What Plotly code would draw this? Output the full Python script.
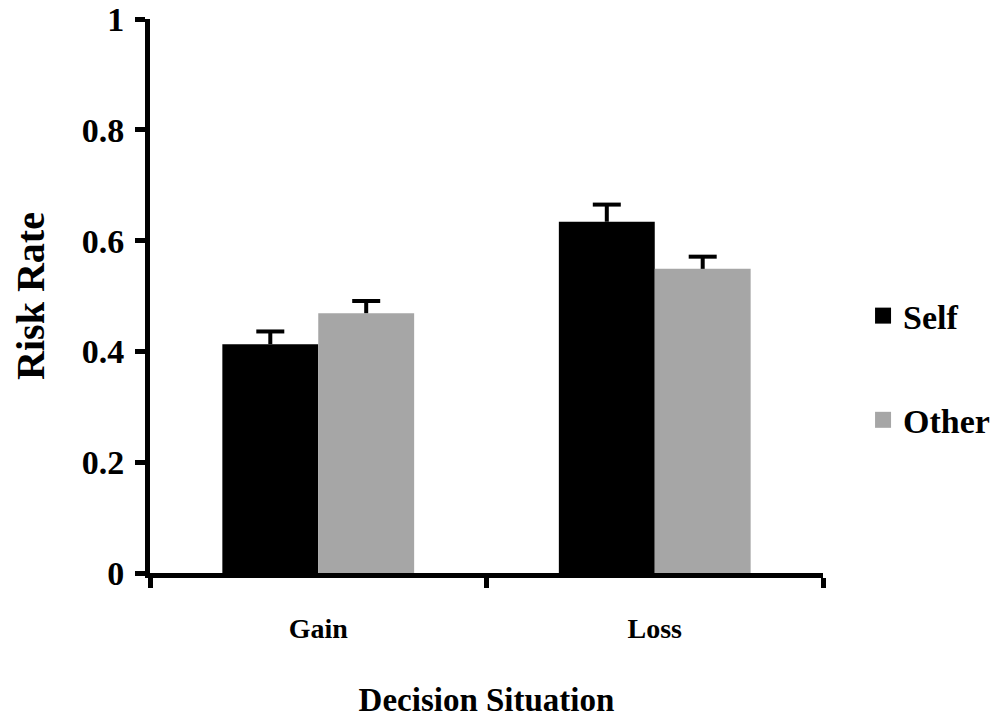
import plotly.graph_objects as go

categories = ["Gain", "Loss"]
self_vals = [0.413, 0.634]
self_err = [0.023, 0.031]
other_vals = [0.469, 0.549]
other_err = [0.022, 0.022]
y_ticks = [0, 0.2, 0.4, 0.6, 0.8, 1]
y_tick_labels = ["0", "0.2", "0.4", "0.6", "0.8", "1"]

font_family = "Liberation Serif"
series = [
    ("Self", self_vals, self_err, "#000000", "g1"),
    ("Other", other_vals, other_err, "#a6a6a6", "g2"),
]

fig = go.Figure()
for name, vals, errs, color, grp in series:
    fig.add_trace(go.Bar(
        x=categories, y=vals, name="<b>%s</b>" % name,
        marker=dict(color=color, line=dict(width=0)),
        error_y=dict(type="data", symmetric=False, array=errs, arrayminus=[0] * len(errs),
                     color="#000000", thickness=4, width=0),
        offsetgroup=grp, legendgroup=grp, showlegend=False, hoverinfo="skip",
    ))
for name, vals, errs, color, grp in series:
    fig.add_trace(go.Scatter(
        x=categories, y=[v + e for v, e in zip(vals, errs)],
        mode="markers", offsetgroup=grp, showlegend=False, hoverinfo="skip",
        marker=dict(symbol="line-ew", size=20, color="#000000",
                    line=dict(width=4, color="#000000")),
        cliponaxis=False,
    ))
# legend entries (square swatches)
for name, vals, errs, color, grp in series:
    fig.add_trace(go.Scatter(
        x=[None], y=[None], mode="markers", name="<b>%s</b>" % name,
        legendgroup=grp, showlegend=True, hoverinfo="skip",
        marker=dict(symbol="square", size=19, color=color, line=dict(width=0)),
    ))

# page body has an 8px margin, so the figure is sized to fit exactly in the window
fig.update_layout(
    width=984, height=710,
    margin=dict(l=142, r=169, t=11, b=145, autoexpand=False),
    paper_bgcolor="white", plot_bgcolor="white",
    barmode="group", bargap=0.43, bargroupgap=0,
    scattermode="group", scattergap=0.43,
    font=dict(family=font_family, color="black"),
    showlegend=True,
    legend=dict(x=1.0595, y=0.37, xanchor="left", yanchor="middle",
                font=dict(size=34, family=font_family, color="black"),
                traceorder="grouped", tracegroupgap=57, itemsizing="trace",
                bgcolor="rgba(0,0,0,0)", itemwidth=30),
    xaxis=dict(
        type="category", automargin=False,
        showline=True, linecolor="black", linewidth=5,
        ticks="outside", tickson="boundaries", ticklen=10, tickwidth=5, tickcolor="black",
        tickvals=categories, ticktext=["<b>%s</b>" % c for c in categories],
        tickfont=dict(size=28, family=font_family, color="black"),
        ticklabelstandoff=26,
        showgrid=False, zeroline=False,
        title=dict(text="<b>Decision Situation</b>", font=dict(size=33, family=font_family, color="black"), standoff=60),
    ),
    yaxis=dict(
        range=[0, 1], automargin=False,
        tickvals=y_ticks, ticktext=["<b>%s</b>" % t for t in y_tick_labels],
        showline=True, linecolor="black", linewidth=5,
        ticks="outside", ticklen=10, tickwidth=5, tickcolor="black",
        tickfont=dict(size=34, family=font_family, color="black"),
        ticklabelstandoff=4, ticklabeloverflow="allow",
        showgrid=False, zeroline=False,
        title=dict(text="<b>Risk Rate</b>", font=dict(size=40, family=font_family, color="black"), standoff=46),
    ),
)

fig.write_html("out.html")
